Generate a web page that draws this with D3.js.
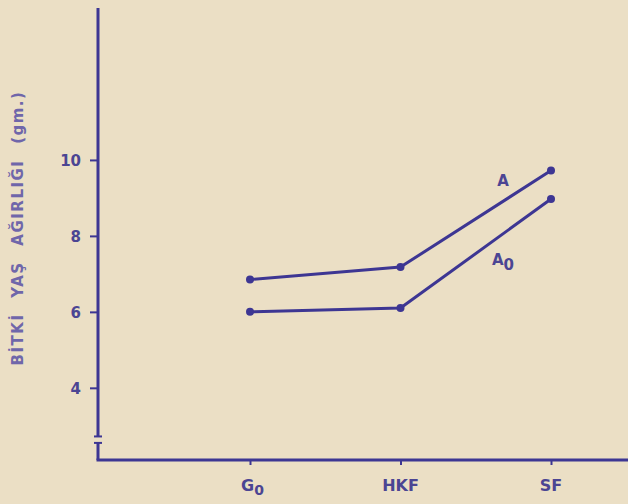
<!DOCTYPE html>
<html><head><meta charset="utf-8">
<script src="https://cdn.jsdelivr.net/npm/d3@7"></script>
<style>
html,body{margin:0;padding:0;background:#ebdfc5;}
svg{display:block;}
</style></head>
<body>
<script>
const categories = ["G0", "HKF", "SF"];
const seriesA = [6.85, 7.18, 9.72];
const seriesA0 = [6.0, 6.1, 8.97];
const yTicks = [4, 6, 8, 10];
const yTitle = "BİTKİ YAŞ AĞIRLIĞI (gm.)";

const W = 628, H = 504;
const ink = "#3d3693";
const textInk = "#4b4593";
const FONT = "DejaVu Sans";
const svg = d3.select("body").append("svg").attr("width", W).attr("height", H);
svg.append("rect").attr("width", W).attr("height", H).attr("fill", "#ebdfc5");

const x = d3.scalePoint().domain(categories).range([250, 551]);
const y = d3.scaleLinear().domain([2.1, 14]).range([460, 8]);
const x0 = 98;

// Y axis ticks and labels
const yAxis = d3.axisLeft(y).tickValues(yTicks).tickSize(8).tickSizeOuter(0).tickPadding(9);
const gy = svg.append("g").attr("transform", `translate(${x0},0)`).call(yAxis);
gy.select(".domain").remove();
gy.selectAll("line").attr("stroke", ink).attr("stroke-width", 2);
gy.selectAll("text").attr("fill", textInk).attr("font-family", FONT)
  .attr("font-weight", "bold").attr("font-size", 15).attr("dy", "0.35em");

// Y axis line with break
svg.append("line").attr("x1", x0).attr("x2", x0).attr("y1", y(14)).attr("y2", y(2.72))
  .attr("stroke", ink).attr("stroke-width", 3);
svg.append("line").attr("x1", x0).attr("x2", x0).attr("y1", y(2.55)).attr("y2", y(2.1))
  .attr("stroke", ink).attr("stroke-width", 3);
[2.72, 2.55].forEach(v => {
  svg.append("line").attr("x1", x0 - 4).attr("x2", x0 + 4).attr("y1", y(v)).attr("y2", y(v))
    .attr("stroke", ink).attr("stroke-width", 2);
});

// X axis
const xAxis = d3.axisBottom(x).tickSize(5).tickSizeOuter(0).tickFormat(() => "");
const gx = svg.append("g").attr("transform", `translate(0,${y(2.1)})`).call(xAxis);
gx.select(".domain").remove();
gx.selectAll("line").attr("stroke", ink).attr("stroke-width", 2);
svg.append("line").attr("x1", x0 - 1.5).attr("x2", W).attr("y1", y(2.1)).attr("y2", y(2.1))
  .attr("stroke", ink).attr("stroke-width", 3);

// X labels
categories.forEach(c => {
  const t = svg.append("text").attr("y", y(2.1) + 31)
    .attr("fill", textInk).attr("font-family", FONT).attr("font-weight", "bold").attr("font-size", 16);
  if (c === "G0") {
    t.attr("x", x(c) - 9);
    t.append("tspan").text("G");
    t.append("tspan").attr("dy", 4).attr("font-size", 14).text("0");
  } else t.attr("x", x(c)).attr("text-anchor", "middle").text(c);
});

// Y title
svg.append("text").attr("transform", `translate(23,228) rotate(-90)`)
  .attr("text-anchor", "middle").attr("fill", "#6f66aa")
  .attr("font-family", FONT).attr("font-weight", "bold")
  .attr("font-size", 15).attr("letter-spacing", 1.5).attr("word-spacing", 9).text(yTitle);

// Lines
const line = d3.line().x((d, i) => x(categories[i])).y(d => y(d));
[seriesA, seriesA0].forEach(s => {
  svg.append("path").datum(s).attr("d", line).attr("fill", "none")
    .attr("stroke", ink).attr("stroke-width", 3).attr("stroke-linejoin", "round");
  svg.selectAll(null).data(s).enter().append("circle")
    .attr("cx", (d, i) => x(categories[i])).attr("cy", d => y(d)).attr("r", 4).attr("fill", ink);
});

// Series labels
svg.append("text").attr("x", x("SF") - 48).attr("y", y(seriesA[2]) + 15)
  .attr("text-anchor", "middle").attr("fill", textInk)
  .attr("font-family", FONT).attr("font-weight", "bold").attr("font-size", 15).text("A");
const tA0 = svg.append("text").attr("x", x("SF") - 59).attr("y", y(seriesA0[2]) + 66)
  .attr("fill", textInk).attr("font-family", FONT)
  .attr("font-weight", "bold").attr("font-size", 15);
tA0.append("tspan").text("A");
tA0.append("tspan").attr("dy", 5).attr("font-size", 15).text("0");
</script>
</body></html>
